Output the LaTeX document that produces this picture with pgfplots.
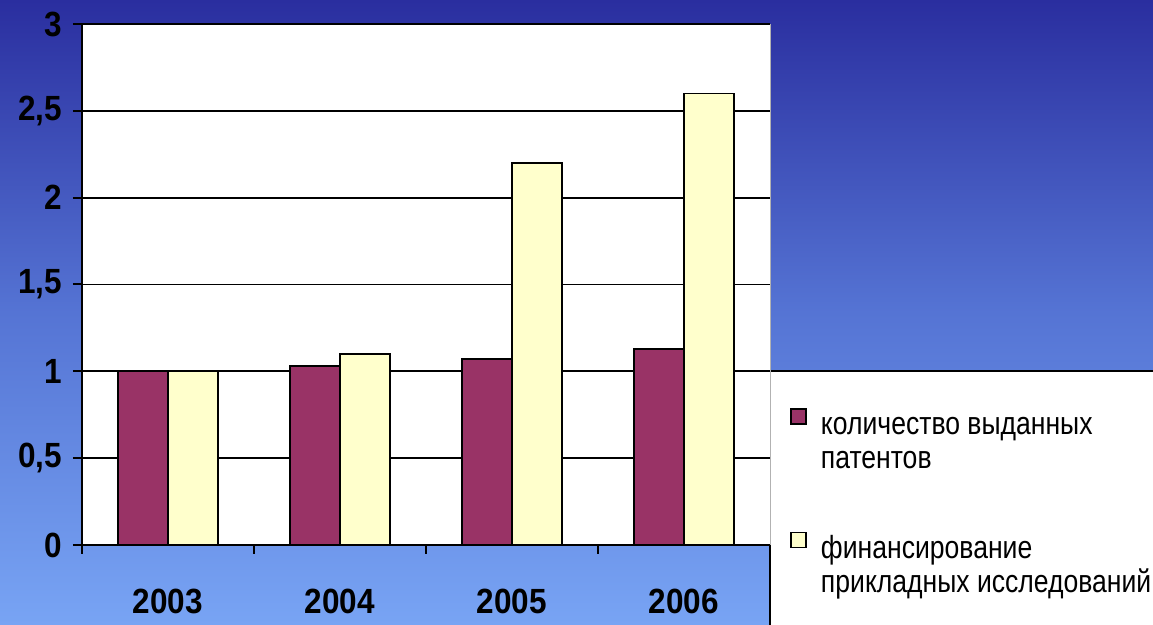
\documentclass[border=0pt]{standalone}
\usepackage{fontspec}
\setmainfont{Liberation Sans}[FakeStretch=0.83]
\newfontfamily\tickfont{Liberation Sans Bold}[FakeStretch=0.9]
\usepackage{pgfplots}
\pgfplotsset{compat=1.18}

\definecolor{bgtop}{HTML}{2A2E9F}
\definecolor{bgmid}{HTML}{5574D4}
\definecolor{bgbot}{HTML}{78A4F4}
\definecolor{patents}{HTML}{993366}
\definecolor{funding}{HTML}{FFFFCC}

\begin{document}
\begin{tikzpicture}
% slide background and legend panel
\shade[top color=bgtop, bottom color=bgbot, middle color=bgmid] (-41pt,-40pt) rectangle (535.5pt,272.5pt);
\fill[white] (344pt,-40pt) rectangle (540pt,87pt);
\draw[line width=1pt] (344pt,-41pt) -- (344pt,87pt) -- (540pt,87pt);

\begin{axis}[
  scale only axis,
  width=344pt, height=260.5pt,
  axis background/.style={fill=white, draw=gray!60},
  axis x line*=bottom, axis y line*=left,
  axis line style={line width=1pt, -},
  ymin=0, ymax=3,
  ytick={0,0.5,1,1.5,2,2.5,3},
  ymajorgrids, grid style={black, line width=0.9pt},
  xmin=-0.5, xmax=3.5,
  xtick={0,1,2,3},
  xticklabels={2003,2004,2005,2006},
  minor xtick={-0.5,0.5,1.5,2.5,3.5},
  major x tick style={draw=none},
  tick align=outside,
  major tick length=4.5pt, minor tick length=4.5pt,
  tick style={black, line width=1pt},
  /pgf/number format/assume math mode=true,
  /pgf/number format/use comma,
  ticklabel style={font=\tickfont\fontsize{17.5}{17.5}\selectfont},
  yticklabel style={xshift=-2pt},
  xticklabel style={yshift=-14pt},
  ybar=0pt, bar width=25pt,
  legend cell align=left,
  legend image code/.code={\draw[#1, line width=0.8pt] (0pt,0.25pt) rectangle (7.5pt,7.75pt);},
  legend style={at={(1,0.266)}, anchor=north west, xshift=10pt,
    draw=none, fill=none, inner sep=0pt, row sep=44.5pt,
    font=\fontsize{16}{17}\selectfont,
    /tikz/every odd column/.append style={column sep=5pt}},
]
\addplot[fill=patents, draw=black, line width=0.8pt] coordinates {(0,1) (1,1.03) (2,1.07) (3,1.13)};
\addlegendentry{\begin{tabular}[t]{@{}l@{}}количество выданных\\патентов\end{tabular}}
\addplot[fill=funding, draw=black, line width=0.8pt] coordinates {(0,1) (1,1.10) (2,2.20) (3,2.60)};
\addlegendentry{\begin{tabular}[t]{@{}l@{}}финансирование\\прикладных исследований\end{tabular}}
\end{axis}
\pgfresetboundingbox
\useasboundingbox (-41pt,-40pt) rectangle (535.5pt,272.5pt);
\end{tikzpicture}
\end{document}
